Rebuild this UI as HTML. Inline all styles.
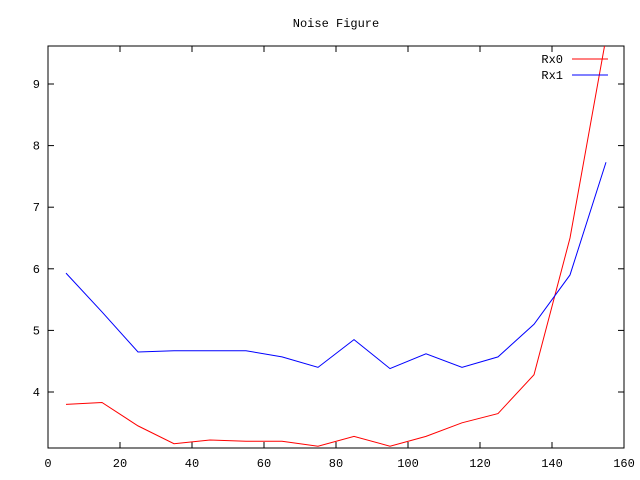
<!DOCTYPE html>
<html><head><meta charset="utf-8"><style>body{margin:0;background:#fff}svg{display:block;font-family:"Liberation Mono","DejaVu Sans Mono",monospace}</style></head>
<body>
<svg id="chart" width="640" height="480" xmlns="http://www.w3.org/2000/svg">
<defs><clipPath id="clip"><rect x="48" y="46" width="576" height="402"/></clipPath></defs>
<text x="336" y="27" font-size="12" text-anchor="middle">Noise Figure</text>
<rect x="48" y="46" width="576" height="402" fill="none" stroke="#000"/>
<g id="axes"></g>
<g id="series" clip-path="url(#clip)"></g>
<g>
<text x="563" y="63" font-size="12" text-anchor="end">Rx0</text>
<line x1="572" y1="59" x2="608" y2="59" stroke="#f00"/>
<text x="563" y="79" font-size="12" text-anchor="end">Rx1</text>
<line x1="572" y1="75" x2="608" y2="75" stroke="#00f"/>
</g>
</svg>
<script>
const xValues=[5,15,25,35,45,55,65,75,85,95,105,115,125,135,145,155];
const rx0=[3.8,3.83,3.45,3.16,3.22,3.2,3.2,3.12,3.28,3.12,3.28,3.5,3.65,4.28,6.5,9.75];
const rx1=[5.93,5.3,4.65,4.67,4.67,4.67,4.57,4.4,4.85,4.38,4.62,4.4,4.57,5.1,5.9,7.73];
const xTicks=[0,20,40,60,80,100,120,140,160];
const yTicks=[4,5,6,7,8,9];
const NS="http://www.w3.org/2000/svg";
const X=v=>48+v*3.6, Y=v=>392-(v-4)*61.6;
const axes=document.getElementById('axes'), ser=document.getElementById('series');
function mk(t,a,p){const e=document.createElementNS(NS,t);for(const k in a)e.setAttribute(k,a[k]);p.appendChild(e);return e;}
xTicks.forEach(v=>{
 const g=mk('g',{},axes);
 
 
 mk('line',{x1:X(v),y1:448,x2:X(v),y2:442,stroke:'#000'},g);
 mk('line',{x1:X(v),y1:46,x2:X(v),y2:52,stroke:'#000'},g);
 mk('text',{x:X(v),y:467,'font-size':12,'text-anchor':'middle'},g).textContent=v;
});
yTicks.forEach(v=>{
 const g=mk('g',{},axes);
 
 
 mk('line',{x1:48,y1:Y(v),x2:54,y2:Y(v),stroke:'#000'},g);
 mk('line',{x1:624,y1:Y(v),x2:618,y2:Y(v),stroke:'#000'},g);
 mk('text',{x:40,y:Y(v)+4,'font-size':12,'text-anchor':'end'},g).textContent=v;
});
[[rx0,'#f00','rx0-line'],[rx1,'#00f','rx1-line']].forEach(([d,c,n])=>{
 const p=mk('polyline',{points:d.map((v,i)=>X(xValues[i])+','+Y(v)).join(' '),fill:'none',stroke:c},ser);
 
 
});
</script>
</body></html>
